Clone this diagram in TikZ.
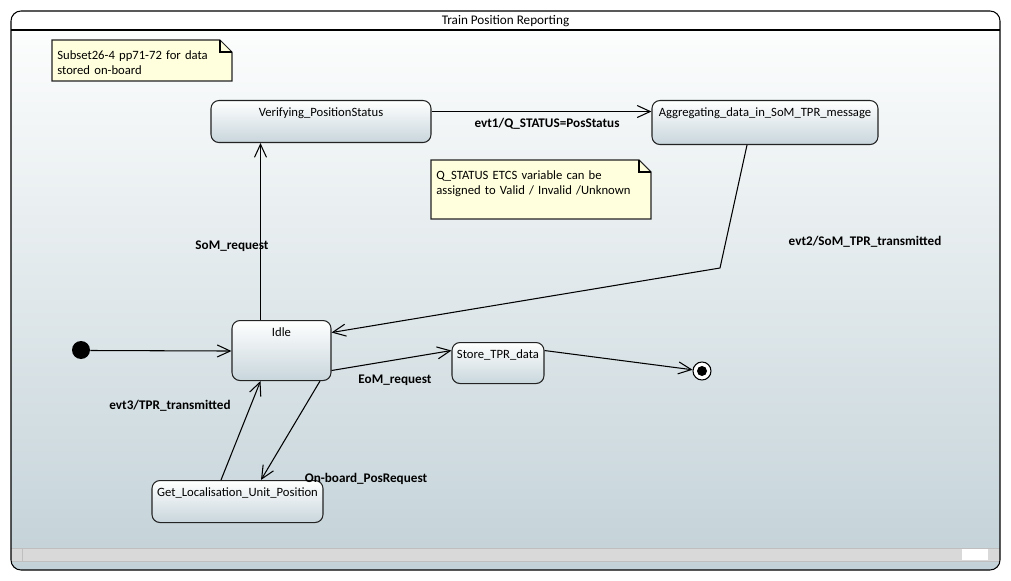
\documentclass[tikz,border=0pt]{standalone}
\usepackage{fontspec}
\setmainfont{Carlito}
\usetikzlibrary{arrows.meta}

\definecolor{bgtop}{RGB}{252,253,253}
\definecolor{bgbottom}{RGB}{195,210,216}
\definecolor{statebottom}{RGB}{200,214,220}
\definecolor{notefill}{RGB}{255,255,221}
\definecolor{scrollgray}{RGB}{217,217,217}
\definecolor{linegray}{RGB}{35,35,35}

\begin{document}
\begin{tikzpicture}[x=0.2mm, y=-0.2mm, font=\fontsize{7.2}{8.6}\selectfont,
    trans/.style={draw, line width=0.6pt, -{Straight Barb[length=2.6mm,width=2.4mm,line width=0.6pt]}},
    state/.style={draw=linegray, line width=0.6pt, rounded corners=1.6mm, top color=white,
      bottom color=statebottom, anchor=north, align=center, inner xsep=0pt, inner ysep=1mm,
      text height=2.2mm},
    notebox/.style={fill=notefill, draw=linegray, line width=0.6pt},
    note/.style={anchor=north west, align=left, inner xsep=1mm, inner ysep=1mm, text height=2.8mm},
    trig/.style={font=\fontsize{7.5}{9}\selectfont\bfseries}]

      \useasboundingbox (0,0) rectangle (1011,581);

      % Frame
      \begin{scope}
        \clip[rounded corners=2mm] (11,11) rectangle (1000,570);
        \fill[white] (11,11) rectangle (1000,30);
        \shade[top color=bgtop, bottom color=bgbottom] (11,30) rectangle (1000,570);
        \fill[scrollgray] (11,548) rectangle (1000,561);
        \draw[black!25] (11,548) -- (1000,548) (11,561) -- (1000,561) (22,548) -- (22,561);
        \fill[white] (962,549) rectangle (988,560);
      \end{scope}
      \draw[line width=0.6pt, rounded corners=2mm] (11,11) rectangle (1000,570);
      \draw[line width=0.6pt] (11,30) -- (1000,30);
      \node[font=\fontsize{7.5}{9}\selectfont] (title) at (505.5,21) {Train Position Reporting};

      % Notes
      \filldraw[notebox] (52,40) -- (220,40) -- (232,52) -- (232,81) -- (52,81) -- cycle;
      \draw[line width=0.6pt] (220,40) -- (220,52) -- (232,52);
      \filldraw[notebox] (431,160) -- (639,160) -- (651,172) -- (651,219) -- (431,219) -- cycle;
      \draw[line width=0.6pt] (639,160) -- (639,172) -- (651,172);
      \node[note, text width=34mm, text depth=3.4mm] (subsetnote) at (52,40)
        {Subset26-4 pp71-72 for data\\stored on-board};
      \node[note, text width=42mm, text depth=7.2mm] (statusnote) at (431,160)
        {Q\_STATUS ETCS variable can be\\assigned to Valid / Invalid /Unknown};

      % Nodes
      \begin{scope}[every node/.style={state}]
        \node[text width=44mm, text depth=4.2mm] (verify) at (321,100) {Verifying\_PositionStatus};
        \node[text width=45.2mm, text depth=4.6mm] (aggregate) at (765,100) {Aggregating\_data\_in\_SoM\_TPR\_message};
        \node[text width=19.8mm, text depth=7.8mm] (idle) at (281.5,320) {Idle};
        \node[text width=18.4mm, text depth=4mm] (store) at (498,342) {Store\_TPR\_data};
        \node[text width=34.2mm, text depth=4.2mm] (getpos) at (237.5,480) {Get\_Localisation\_Unit\_Position};
      \end{scope}

      \node[circle, fill=black, minimum size=3.6mm, inner sep=0pt] (init) at (81,350) {};
      \node[circle, draw, line width=0.6pt, fill=white, minimum size=3.6mm, inner sep=0pt,
        path picture={\fill[black] (path picture bounding box.center) circle (1mm);}] (final) at (702,371) {};
      \coordinate (bend) at (720,268);

      % Edges
      \begin{scope}[every edge/.style={trans}]
        \path ([yshift=-0.1mm]init.east) edge ([yshift=-0.1mm]idle.west);
        \path ([xshift=-4.2mm]idle.north) edge ([xshift=-4.2mm]idle.north |- verify.south);
        \path ([yshift=2mm]verify.east) edge ([yshift=2mm]verify.east -| aggregate.west);
        \draw[trans] ([xshift=-3.6mm]aggregate.south) -- (bend) -- ([yshift=3.6mm]idle.east);
        \path ([yshift=-4mm]idle.east) edge ([yshift=2.5mm]store.west);
        \path ([yshift=2.5mm]store.east) edge (final);
        \path ([xshift=7.7mm]idle.south) edge ([xshift=4.7mm]getpos.north);
        \path ([xshift=-3.3mm]getpos.north) edge ([xshift=-4.2mm]idle.south);
      \end{scope}

      % Labels
      \begin{scope}[every node/.style={trig}]
        \node (somreq) at (232,246) {SoM\_request};
        \node (evtone) at (547,124) {evt1/Q\_STATUS=PosStatus};
        \node (evttwo) at (865,242) {evt2/SoM\_TPR\_transmitted};
        \node (eomreq) at (395,380) {EoM\_request};
        \node (posreq) at (366,479) {On-board\_PosRequest};
        \node (evtthree) at (170,406) {evt3/TPR\_transmitted};
      \end{scope}

    \end{tikzpicture}
\end{document}
